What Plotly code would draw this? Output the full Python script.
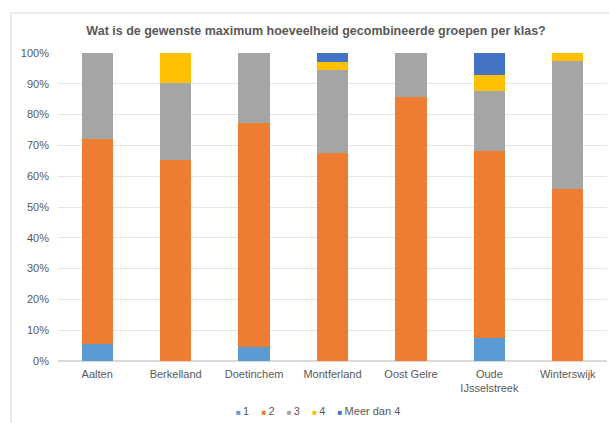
import plotly.graph_objects as go

categories = ["Aalten", "Berkelland", "Doetinchem", "Montferland", "Oost Gelre",
              "Oude<br>IJsselstreek", "Winterswijk"]
series_names = ["1", "2", "3", "4", "Meer dan 4"]
v1 = [0.056, 0.0, 0.046, 0.0, 0.0, 0.076, 0.0]
v2 = [0.665, 0.651, 0.727, 0.676, 0.857, 0.606, 0.557]
v3 = [0.279, 0.250, 0.227, 0.269, 0.143, 0.195, 0.416]
v4 = [0.0, 0.099, 0.0, 0.027, 0.0, 0.051, 0.027]
v5 = [0.0, 0.0, 0.0, 0.028, 0.0, 0.072, 0.0]
colors = ["#5B9BD5", "#ED7D31", "#A5A5A5", "#FFC000", "#4472C4"]

fig = go.Figure()
for name, vals, col in zip(series_names, [v1, v2, v3, v4, v5], colors):
    fig.add_trace(go.Bar(x=categories, y=vals, name=name, showlegend=False,
                         marker=dict(color=col, line=dict(width=0))))

txt = "#595959"

# compact Excel-style legend as real text
legend_text = "&nbsp;&nbsp;&nbsp;&nbsp;".join(
    f"<span style='color:{c}; font-size:8px'>■</span>\u2009{n}" for n, c in zip(series_names, colors))

fig.update_layout(
    barmode="stack",
    bargap=0.6,
    width=609, height=423,
    margin=dict(l=58, r=2, t=53, b=62),
    paper_bgcolor="white", plot_bgcolor="white",
    font=dict(family="Liberation Sans, Arial", size=11, color=txt),
    title=dict(text="<b>Wat is de gewenste maximum hoeveelheid gecombineerde groepen per klas?</b>",
               x=0.519, xanchor="center", xref="container",
               y=1 - 30.7 / 423, yanchor="middle", yref="container",
               font=dict(size=12.5, color=txt)),
    showlegend=False,
    annotations=[dict(text=legend_text, xref="paper", yref="paper",
                      x=(318 - 58) / 549, y=(361 - 411) / 308,
                      xanchor="center", yanchor="middle", showarrow=False,
                      font=dict(size=11, color=txt))],
    xaxis=dict(showgrid=False, showline=False, ticks="", ticklabelstandoff=5,
               tickfont=dict(size=11, color=txt)),
    yaxis=dict(range=[0, 1], dtick=0.1, tickformat=".0%", showgrid=True,
               gridcolor="#E5E5E5", gridwidth=1, zeroline=True, zerolinecolor="#D9D9D9",
               ticks="", ticklabelstandoff=8, tickfont=dict(size=11, color=txt)),
    shapes=[
        dict(type="line", xref="paper", yref="paper", x0=-0.0856, x1=1.1, y0=1.13, y1=1.13,
             line=dict(color="#D9D9D9", width=1)),
        dict(type="line", xref="paper", yref="paper", x0=-0.0856, x1=-0.0856, y0=1.13, y1=-0.25,
             line=dict(color="#D9D9D9", width=1)),
    ],
)

fig.write_html("out.html", config={"displayModeBar": False},
               post_script="document.body.style.margin='0';")
